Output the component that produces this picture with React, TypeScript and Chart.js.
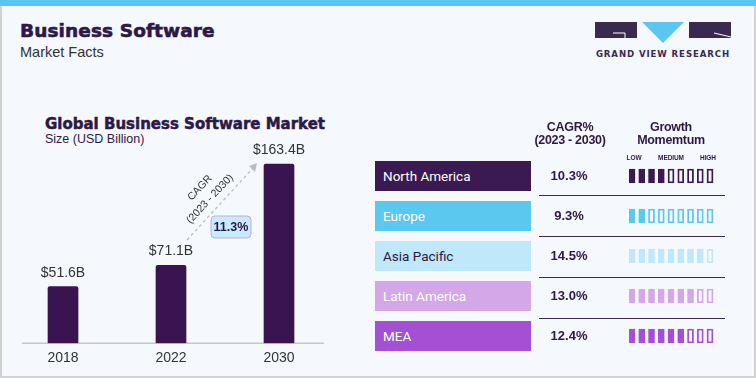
import React, { useEffect, useRef } from 'react';
import { Chart, registerables } from 'chart.js';

Chart.register(...registerables);

// ---- data ----
const years = ['2018', '2022', '2030'];
const marketSize = [51.6, 71.1, 163.4];
const globalCagr = 11.3;
const cagrPeriod = '(2023 - 2030)';

const regions = ['North America', 'Europe', 'Asia Pacific', 'Latin America', 'MEA'];
const regionCagr = [10.3, 9.3, 14.5, 13.0, 12.4];
const momentumLevel = [4, 2, 8, 7, 6];
const momentumSteps = 9;
const momentumTicks = ['LOW', 'MEDIUM', 'HIGH'];

// ---- styles ----
const regionColors = ['#3A1A50', '#5BC8F0', '#BFE8FA', '#D3A7E8', '#A54FD5'];
const regionTextColors = ['#FFFFFF', '#FFFFFF', '#2D1846', '#FFFFFF', '#FFFFFF'];
const DARK = '#2D1846';
const BAR = '#3A1450';
const BG = '#F5F8FC';

function MarketChart() {
  const ref = useRef<HTMLCanvasElement>(null);
  useEffect(() => {
    if (!ref.current) return;
    const valueLabels = {
      id: 'valueLabels',
      afterDatasetsDraw(chart: any) {
        const ctx = chart.ctx;
        const meta = chart.getDatasetMeta(0);
        ctx.save();
        ctx.font = '14px "Liberation Sans", Arial, sans-serif';
        ctx.fillStyle = '#333333';
        ctx.textAlign = 'center';
        ctx.textBaseline = 'middle';
        meta.data.forEach((el: any, i: number) => {
          ctx.fillText('$' + marketSize[i].toFixed(1) + 'B', el.x, el.y - 14);
        });
        ctx.restore();
      },
    };
    const baseline = {
      id: 'baseline',
      beforeDatasetsDraw(chart: any) {
        const { ctx, chartArea } = chart;
        ctx.save();
        ctx.strokeStyle = '#C8C8C8';
        ctx.lineWidth = 1.5;
        ctx.beginPath();
        ctx.moveTo(chartArea.left + 13, chartArea.bottom);
        ctx.lineTo(chartArea.right - 9, chartArea.bottom);
        ctx.stroke();
        ctx.restore();
      },
    };
    const chart = new Chart(ref.current, {
      type: 'bar',
      data: {
        labels: years,
        datasets: [
          {
            data: marketSize,
            backgroundColor: BAR,
            barThickness: 30,
            borderRadius: { topLeft: 2, topRight: 2, bottomLeft: 0, bottomRight: 0 },
            borderSkipped: 'start',
          },
        ],
      },
      options: {
        responsive: false,
        animation: false,
        layout: { padding: { left: 9, right: 27, top: 6, bottom: 6 } },
        plugins: { legend: { display: false }, tooltip: { enabled: false } },
        scales: {
          x: {
            grid: { display: false, drawTicks: false },
            border: { display: false },
            ticks: {
              color: '#333333',
              font: { family: '"Liberation Sans", Arial, sans-serif', size: 14 },
              padding: 7,
            },
          },
          y: { display: false, min: 0, max: 180 },
        },
      },
      plugins: [valueLabels, baseline],
    } as any);
    return () => chart.destroy();
  }, []);
  return (
    <canvas
      ref={ref}
      width={360}
      height={240}
      style={{ position: 'absolute', left: 0, top: 140, width: 360, height: 240 }}
    />
  );
}

function MomentumChart() {
  const ref = useRef<HTMLCanvasElement>(null);
  useEffect(() => {
    if (!ref.current) return;
    const datasets = Array.from({ length: momentumSteps }, (_, k) => ({
      data: regions.map(() => [k, k + 0.62]),
      backgroundColor: regions.map((_, i) => (k < momentumLevel[i] ? regionColors[i] : 'rgba(0,0,0,0)')),
      borderColor: regionColors,
      borderWidth: 1.2,
      borderSkipped: false,
      grouped: false,
      barThickness: 14,
    }));
    const chart = new Chart(ref.current, {
      type: 'bar',
      data: { labels: regions, datasets },
      options: {
        indexAxis: 'y',
        responsive: false,
        animation: false,
        layout: { padding: { left: 9, right: 13.25, top: 0, bottom: 0 } },
        plugins: { legend: { display: false }, tooltip: { enabled: false } },
        scales: {
          x: { display: false, min: 0, max: momentumSteps },
          y: { display: false },
        },
      },
    } as any);
    return () => chart.destroy();
  }, []);
  return (
    <canvas
      ref={ref}
      width={110}
      height={200}
      style={{ position: 'absolute', left: 620, top: 156, width: 110, height: 200 }}
    />
  );
}

const abs = (s: React.CSSProperties): React.CSSProperties => ({ position: 'absolute', ...s });

export default function App() {
  const sans = '"Liberation Sans", Arial, sans-serif';
  const heavy = '"DejaVu Sans", Verdana, sans-serif';
  return (
    <div
      style={{
        position: 'relative',
        width: 756,
        height: 378,
        background: BG,
        overflow: 'hidden',
        fontFamily: sans,
        color: DARK,
      }}
    >
      <style>{'body{margin:0}'}</style>
      {/* frame */}
      <div style={abs({ left: 0, top: 0, width: 756, height: 6, background: '#5DC6EF' })} />
      <div style={abs({ left: 0, top: 6, width: 2, height: 372, background: '#D2D2D2' })} />
      <div style={abs({ right: 0, top: 6, width: 2, height: 372, background: '#D2D2D2' })} />
      <div style={abs({ left: 0, bottom: 0, width: 756, height: 2, background: '#D2D2D2' })} />

      {/* titles */}
      <div style={abs({ left: 20, top: 21, fontFamily: heavy, fontWeight: 700, fontSize: 18.5, lineHeight: '20px', letterSpacing: 0.1, whiteSpace: 'nowrap', WebkitTextStroke: '0.6px ' + DARK })}>
        Business Software
      </div>
      <div style={abs({ left: 20, top: 44, fontSize: 14.5, lineHeight: '16px', color: '#333', whiteSpace: 'nowrap' })}>
        Market Facts
      </div>

      {/* logo */}
      <svg style={abs({ left: 590, top: 18, overflow: 'visible' })} width={150} height={45}>
        <rect x={5} y={4} width={42} height={16} fill="#3B2A50" />
        <polyline points="23,15 35,15 35,20" fill="none" stroke="#FFFFFF" strokeWidth={1} />
        <polygon points="52,4 94,4 73,25" fill="#5BC6F0" />
        <rect x={99} y={4} width={42} height={16} fill="#3B2A50" />
        <line x1={124} y1={15} x2={141} y2={19} stroke="#FFFFFF" strokeWidth={1} />
        <text x={73} y={39} textAnchor="middle" fontFamily={heavy} fontWeight={700} fontSize={8.6} letterSpacing={0.9} fill="#3B2A50">
          GRAND VIEW RESEARCH
        </text>
      </svg>

      {/* chart title */}
      <div style={abs({ left: 45, top: 115, fontFamily: heavy, fontWeight: 700, fontSize: 15, lineHeight: '18px', whiteSpace: 'nowrap', WebkitTextStroke: '0.5px ' + DARK })}>
        Global Business Software Market
      </div>
      <div style={abs({ left: 45, top: 132, fontSize: 12.5, lineHeight: '15px', whiteSpace: 'nowrap' })}>
        Size (USD Billion)
      </div>

      <MarketChart />

      {/* CAGR annotation */}
      <svg style={abs({ left: 0, top: 0, pointerEvents: 'none' })} width={756} height={378}>
        <line x1={187} y1={240} x2={253} y2={168} stroke="#BDBDBD" strokeWidth={1.3} strokeDasharray="3 3" />
        <polygon points="257,163 249,166 255,172" fill="#BDBDBD" />
        <text x={200} y={188} transform="rotate(-47 200 188)" textAnchor="middle" dominantBaseline="middle" fontSize={10.5} fill="#333" fontFamily={sans}>
          CAGR
        </text>
        <text x={210} y={199} transform="rotate(-47 210 199)" textAnchor="middle" dominantBaseline="middle" fontSize={10.5} fill="#333" fontFamily={sans}>
          {cagrPeriod}
        </text>
        <rect x={211} y={216} width={40} height={22} rx={4} fill="#C6ECFB" stroke="#CBA6E3" strokeWidth={1} />
        <text x={231} y={227.5} textAnchor="middle" dominantBaseline="middle" fontSize={12.5} fontWeight={700} fill={DARK} fontFamily={sans}>
          {globalCagr.toFixed(1)}%
        </text>
      </svg>

      {/* table headers */}
      <div style={abs({ left: 520, top: 121, width: 100, textAlign: 'center', fontFamily: sans, fontWeight: 700, fontSize: 12.5, lineHeight: '13px', letterSpacing: -0.3 })}>
        CAGR%
        <br />
        {cagrPeriod}
      </div>
      <div style={abs({ left: 621, top: 121, width: 100, textAlign: 'center', fontFamily: sans, fontWeight: 700, fontSize: 12.5, lineHeight: '13px', letterSpacing: -0.3 })}>
        Growth
        <br />
        Momemtum
      </div>
      {momentumTicks.map((t, i) => (
        <div
          key={t}
          style={abs({ left: 614 + i * 37, top: 153, width: 40, textAlign: 'center', fontFamily: sans, fontWeight: 700, fontSize: 6.5, lineHeight: '9px', letterSpacing: -0.1 })}
        >
          {t}
        </div>
      ))}

      {/* rows */}
      {regions.map((r, i) => (
        <React.Fragment key={r}>
          <div
            style={abs({
              left: 375,
              top: 161 + i * 40,
              width: 156,
              height: 30,
              background: regionColors[i],
              color: regionTextColors[i],
              fontFamily: 'Roboto, Arial, sans-serif',
              fontSize: 13.5,
              lineHeight: '30px',
              paddingLeft: 8,
              boxSizing: 'border-box',
              whiteSpace: 'nowrap',
            })}
          >
            {r}
          </div>
          <div style={abs({ left: 529, top: 161 + i * 40, width: 80, height: 30, lineHeight: '30px', textAlign: 'center', fontWeight: 700, fontSize: 13 })}>
            {regionCagr[i].toFixed(1)}%
          </div>
          {i < regions.length - 1 && (
            <div style={abs({ left: 539, top: 195 + i * 41, width: 186, height: 1.3, background: '#3B2A50' })} />
          )}
        </React.Fragment>
      ))}

      <MomentumChart />
    </div>
  );
}
